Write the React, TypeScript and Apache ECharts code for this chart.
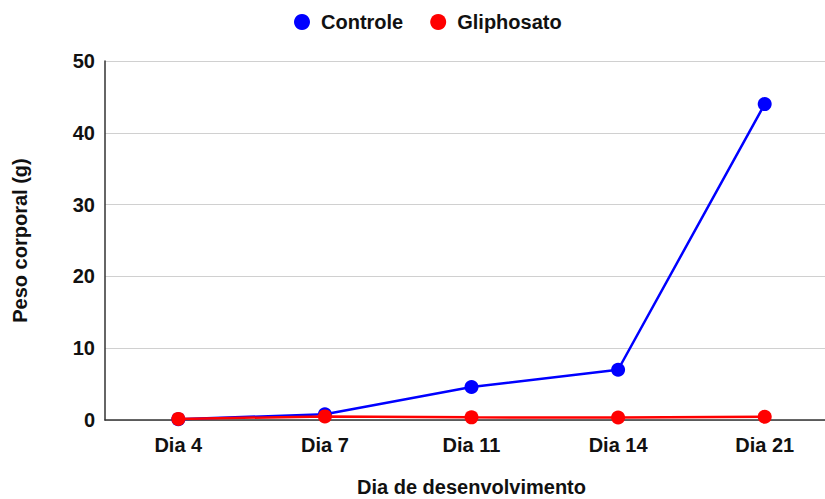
import React, { useEffect, useRef } from "react";
import * as echarts from "echarts";

const categories = ["Dia 4", "Dia 7", "Dia 11", "Dia 14", "Dia 21"];
const controle = [0.1, 0.8, 4.6, 7.0, 44.0];
const gliphosato = [0.15, 0.5, 0.37, 0.35, 0.45];
const yTicks = { min: 0, max: 50, interval: 10 };

const FONT = "'Liberation Sans', Arial, sans-serif";

export default function App() {
  const ref = useRef<HTMLDivElement>(null);
  useEffect(() => {
    if (!ref.current) return;
    const chart = echarts.init(ref.current, undefined, { renderer: "svg" });
    chart.setOption({
      animation: false,
      textStyle: { fontFamily: FONT },
      legend: {
        top: 7,
        left: 289,
        icon: "circle",
        itemWidth: 16,
        itemHeight: 16,
        itemGap: 27,
        textStyle: {
          fontSize: 20,
          fontWeight: "bold",
          color: "#111",
          fontFamily: FONT,
          padding: [0, 0, 0, 6],
        },
        data: ["Controle", "Gliphosato"],
      },
      grid: {
        left: 105,
        top: 61,
        width: 733,
        height: 359,
        containLabel: false,
        outerBoundsMode: "none",
      },
      xAxis: {
        type: "category",
        data: categories,
        boundaryGap: true,
        name: "Dia de desenvolvimento",
        nameLocation: "middle",
        nameGap: 57,
        nameTextStyle: { fontSize: 20, fontWeight: "bold", color: "#111", fontFamily: FONT },
        axisLine: { lineStyle: { color: "#333", width: 1.5 } },
        axisTick: { show: false },
        axisLabel: { fontSize: 20, fontWeight: "bold", color: "#111", margin: 15, fontFamily: FONT },
      },
      yAxis: {
        type: "value",
        min: yTicks.min,
        max: yTicks.max,
        interval: yTicks.interval,
        name: "Peso corporal (g)",
        nameLocation: "middle",
        nameGap: 75,
        nameTextStyle: { fontSize: 20, fontWeight: "bold", color: "#111", fontFamily: FONT },
        axisLine: { show: true, lineStyle: { color: "#333", width: 1.5 } },
        axisTick: { show: false },
        axisLabel: { fontSize: 20, fontWeight: "bold", color: "#111", margin: 10, fontFamily: FONT },
        splitLine: { lineStyle: { color: "#d0d0d0", width: 1.2 } },
      },
      series: [
        {
          name: "Controle",
          type: "line",
          data: controle,
          symbol: "circle",
          symbolSize: 14,
          itemStyle: { color: "#0000ff" },
          lineStyle: { color: "#0000ff", width: 2.5 },
          z: 3,
        },
        {
          name: "Gliphosato",
          type: "line",
          data: gliphosato,
          symbol: "circle",
          symbolSize: 14,
          itemStyle: { color: "#ff0000" },
          lineStyle: { color: "#ff0000", width: 2.5 },
          z: 4,
        },
      ],
    });
    return () => chart.dispose();
  }, []);
  return <div ref={ref} style={{ width: 825, height: 499, position: "absolute", left: 0, top: 0 }} />;
}
